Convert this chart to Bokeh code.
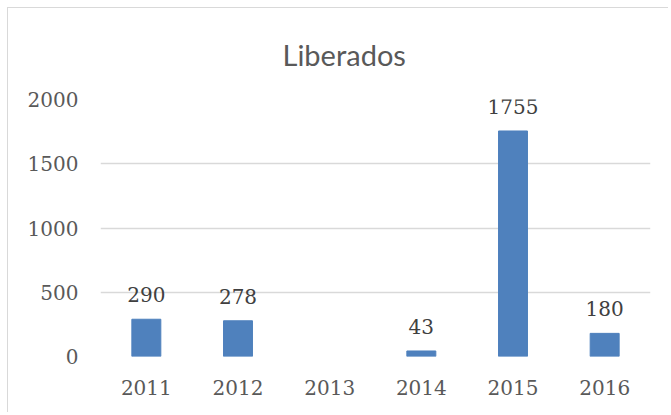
from bokeh.plotting import figure
from bokeh.models import (ColumnDataSource, FactorRange, Range1d, SingleIntervalTicker,
                          Title, LabelSet)
from bokeh.core.properties import value
from bokeh.embed import file_html
from bokeh.resources import INLINE

# ---- data ----
years = ["2011", "2012", "2013", "2014", "2015", "2016"]
liberados = [290, 278, None, 43, 1755, 180]
title_text = "Liberados"

bar_color = "#4F81BD"
grid_color = "#D9D9D9"
axis_text = "#595959"
label_text = "#404040"
serif = "DejaVu Serif"

xs = [y for y, v in zip(years, liberados) if v is not None]
vs = [v for v in liberados if v is not None]
src = ColumnDataSource(dict(x=xs, top=vs, label=[str(v) for v in vs]))

p = figure(
    width=661, height=405,
    x_range=FactorRange(*years, range_padding=0),
    y_range=Range1d(0, 2000),
    output_backend="svg", toolbar_location=None,
    min_border_left=92, min_border_right=19, min_border_top=91, min_border_bottom=57,
    margin=(7, 0, 0, 7),
    styles={"border-left": "1px solid #D9D9D9", "border-top": "1px solid #D9D9D9"},
)
p.outline_line_color = None
p.background_fill_color = "white"
p.border_fill_color = "white"

t = Title(text=title_text, align="left", offset=182, standoff=52, vertical_align="top",
          text_font="Lato", text_font_size="29px", text_font_style="normal",
          text_color=axis_text)
p.add_layout(t, "above")

p.vbar(x="x", top="top", width=0.316, bottom=0, source=src,
       fill_color=bar_color, line_color=bar_color)

p.add_layout(LabelSet(x="x", y="top", text="label", source=src,
                      text_align="center", text_baseline="alphabetic", y_offset=17,
                      text_font=value(serif), text_font_size=value("20px"),
                      text_color=label_text))

p.xgrid.grid_line_color = None
p.ygrid.grid_line_color = grid_color
p.ygrid.grid_line_width = 1.3

p.yaxis.ticker = SingleIntervalTicker(interval=500)
p.yaxis.axis_line_color = None
p.yaxis.major_tick_line_color = None
p.yaxis.minor_tick_line_color = None
p.yaxis.major_label_standoff = 16
p.yaxis.major_label_text_font = serif
p.yaxis.major_label_text_font_size = "20px"
p.yaxis.major_label_text_color = axis_text

p.xaxis.axis_line_color = None
p.xaxis.major_tick_line_color = None
p.xaxis.minor_tick_line_color = None
p.xaxis.major_label_standoff = 17
p.xaxis.major_label_text_font = serif
p.xaxis.major_label_text_font_size = "20px"
p.xaxis.major_label_text_color = axis_text

open("out.html", "w").write(file_html(p, INLINE))
